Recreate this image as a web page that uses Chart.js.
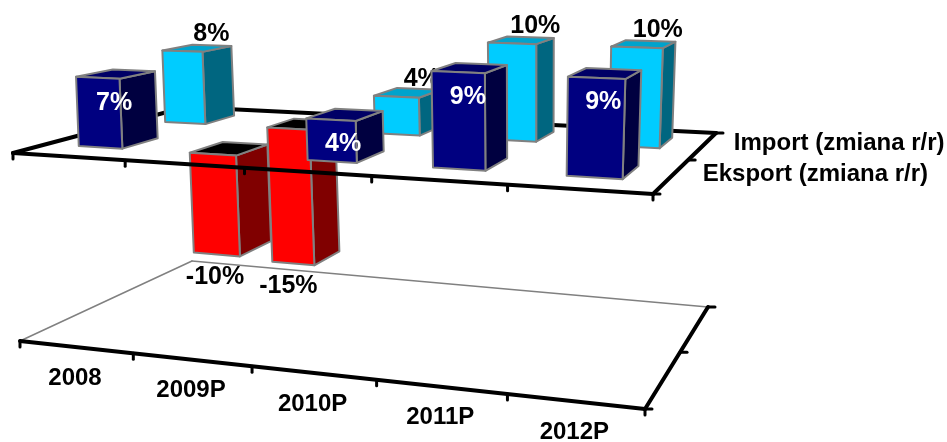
<!DOCTYPE html>
<html>
<head>
<meta charset="utf-8">
<title>Import i eksport</title>
<script src="https://cdn.jsdelivr.net/npm/chart.js@4/dist/chart.umd.min.js"></script>
<style>
    html, body { margin: 0; padding: 0; background: #fff; }
    canvas { display: block; }
</style>
</head>
<body>
<canvas id="myChart" width="947" height="442"></canvas>
<script>
    const categories = ['2008', '2009P', '2010P', '2011P', '2012P'];
    const seriesNames = ['Eksport (zmiana r/r)', 'Import (zmiana r/r)'];
    const eksport = [7, -10, 4, 9, 9];
    const importValues = [8, -15, 4, 10, 10];

    // corners of the two planes: front-left, front-right, back-right, back-left
    const zeroPlane = [[13, 153], [653, 194], [716, 133], [186, 107]];
    const floorPlane = [[20, 341], [645, 409], [708, 307], [192, 261]];
    const verticalPerspective = 1.02;
    const barHalfWidth = 0.2;
    const barHalfDepth = 0.1;
    const barDepthShift = 0.015;

    const faces = {
        navy: {front: '#000080', side: '#000040', top: '#000066'},
        cyan: {front: '#00CCFF', side: '#006680', top: '#00A3CC'},
        red: {front: '#FF0000', side: '#800000', top: '#000000'}
    };

    function homography(q) {
        let dx1 = q[1][0] - q[2][0], dx2 = q[3][0] - q[2][0];
        let dy1 = q[1][1] - q[2][1], dy2 = q[3][1] - q[2][1];
        let sx = q[0][0] - q[1][0] + q[2][0] - q[3][0];
        let sy = q[0][1] - q[1][1] + q[2][1] - q[3][1];
        let den = dx1 * dy2 - dx2 * dy1;
        let g = (sx * dy2 - dx2 * sy) / den;
        let h = (dx1 * sy - sx * dy1) / den;
        let a = q[1][0] - q[0][0] + g * q[1][0];
        let b = q[3][0] - q[0][0] + h * q[3][0];
        let d = q[1][1] - q[0][1] + g * q[1][1];
        let e = q[3][1] - q[0][1] + h * q[3][1];
        return function (u, v) {
            let w = g * u + h * v + 1;
            return [(a * u + b * v + q[0][0]) / w, (d * u + e * v + q[0][1]) / w];
        };
    }

    const zeroMap = homography(zeroPlane);
    const floorMap = homography(floorPlane);

    // u, d are 0..1 along the category and depth axes, t is 0 at value 0 and 1 on the floor
    function project(u, d, t) {
        let z = zeroMap(u, d);
        let f = floorMap(u, d);
        let k = verticalPerspective;
        let w = (1 - t) + t * k;
        return [((1 - t) * z[0] + t * k * f[0]) / w, ((1 - t) * z[1] + t * k * f[1]) / w];
    }

    function polygon(ctx, pts, fill) {
        ctx.beginPath();
        pts.forEach((p, i) => i ? ctx.lineTo(p[0], p[1]) : ctx.moveTo(p[0], p[1]));
        ctx.closePath();
        ctx.fillStyle = fill;
        ctx.fill();
        ctx.strokeStyle = '#808080';
        ctx.lineWidth = 2;
        ctx.lineJoin = 'round';
        ctx.stroke();
    }

    function line(ctx, a, b, color, width) {
        ctx.beginPath();
        ctx.moveTo(a[0], a[1]);
        ctx.lineTo(b[0], b[1]);
        ctx.strokeStyle = color;
        ctx.lineWidth = width;
        ctx.lineCap = 'round';
        ctx.stroke();
    }

    const bars3d = {
        id: 'bars3d',
        afterDatasetsDraw: function (chart) {
            const ctx = chart.ctx;
            const sx = chart.scales.x, sy = chart.scales.y, sz = chart.scales.depth;
            const uOf = i => (sx.getPixelForValue(i) - sx.left) / sx.width;
            const dOf = s => (sz.getPixelForValue(s) - sz.top) / sz.height;
            const y0 = sy.getPixelForValue(0), yFloor = sy.getPixelForValue(sy.min);
            const tOf = v => (sy.getPixelForValue(v) - y0) / (yFloor - y0);
            const catStep = 1 / categories.length;

            function drawPlane(t, thinBack) {
                let backColor = thinBack ? '#808080' : '#000';
                let backWidth = thinBack ? 1.5 : 4;
                line(ctx, project(0, 0, t), project(0, 1, t), backColor, backWidth);
                line(ctx, project(0, 1, t), project(1, 1, t), backColor, backWidth);
                line(ctx, project(1, 1, t), project(1, 0, t), '#000', 4);
                line(ctx, project(0, 0, t), project(1, 0, t), '#000', 4);
                // ticks
                for (let i = 0; i <= categories.length; i++) {
                    let p = project(i * catStep, 0, t);
                    line(ctx, p, [p[0], p[1] + 6], '#000', 3);
                }
                [0, 0.5, 1].forEach(d => {
                    let p = project(1, d, t);
                    line(ctx, p, [p[0] + 7, p[1]], '#000', 3);
                });
            }

            function drawBar(series, i, faceSet) {
                let v = chart.data.datasets[series].data[i];
                let u = uOf(i), d = dOf(series) + barDepthShift;
                let hw = barHalfWidth * catStep;
                let t = tOf(v);
                let u0 = u - hw, u1 = u + hw, d0 = d - barHalfDepth, d1 = d + barHalfDepth;
                polygon(ctx, [project(u1, d0, 0), project(u1, d1, 0), project(u1, d1, t), project(u1, d0, t)], faceSet.side);
                let topT = Math.min(t, 0);
                polygon(ctx, [project(u0, d0, topT), project(u1, d0, topT), project(u1, d1, topT), project(u0, d1, topT)], faceSet.top);
                polygon(ctx, [project(u0, d0, 0), project(u1, d0, 0), project(u1, d0, t), project(u0, d0, t)], faceSet.front);
            }

            function drawLabel(series, i) {
                let v = chart.data.datasets[series].data[i];
                let p = project(uOf(i), dOf(series) + barDepthShift, tOf(v));
                let off;
                let color = '#000';
                if (v < 0) {
                    off = [-18, 30];
                } else if (series === 0) {
                    off = [-2, 29];
                    color = '#fff';
                } else {
                    off = [14, -14];
                }
                ctx.font = 'bold 25px "Liberation Sans", Arial, sans-serif';
                ctx.textAlign = 'center';
                ctx.textBaseline = 'middle';
                ctx.fillStyle = color;
                ctx.fillText(v + '%', p[0] + off[0], p[1] + off[1]);
            }

            // floor first, the red bars hang down to it
            drawPlane(1, true);
            ctx.font = 'bold 24px "Liberation Sans", Arial, sans-serif';
            ctx.textAlign = 'center';
            ctx.textBaseline = 'middle';
            ctx.fillStyle = '#000';
            categories.forEach((c, i) => {
                let p = project(uOf(i), 0, 1);
                ctx.fillText(c, p[0] - 1, p[1] + 31);
            });

            [1, 0].forEach(s => {
                categories.forEach((c, i) => {
                    if (chart.data.datasets[s].data[i] < 0) {
                        drawBar(s, i, faces.red);
                        drawLabel(s, i);
                    }
                });
            });

            drawPlane(0, false);

            ctx.font = 'bold 24px "Liberation Sans", Arial, sans-serif';
            ctx.textAlign = 'left';
            ctx.textBaseline = 'middle';
            ctx.fillStyle = '#000';
            seriesNames.forEach((name, s) => {
                let p = project(1, dOf(s), 0);
                ctx.fillText(name, p[0] + 31, p[1] - 2);
            });

            [1, 0].forEach(s => {
                categories.forEach((c, i) => {
                    if (chart.data.datasets[s].data[i] >= 0) {
                        drawBar(s, i, s === 0 ? faces.navy : faces.cyan);
                        drawLabel(s, i);
                    }
                });
            });
        }
    };

    new Chart(document.getElementById('myChart').getContext('2d'), {
        type: 'bar',
        data: {
            labels: categories,
            datasets: [
                {label: seriesNames[0], data: eksport, backgroundColor: 'rgba(0,0,0,0)'},
                {label: seriesNames[1], data: importValues, backgroundColor: 'rgba(0,0,0,0)'}
            ]
        },
        options: {
            responsive: false,
            animation: false,
            plugins: {legend: {display: false}, tooltip: {enabled: false}},
            scales: {
                x: {display: false, offset: true},
                y: {display: false, min: -19, max: 12},
                depth: {type: 'category', axis: 'y', labels: seriesNames, offset: true, display: false}
            }
        },
        plugins: [bars3d]
    });
</script>
</body>
</html>
